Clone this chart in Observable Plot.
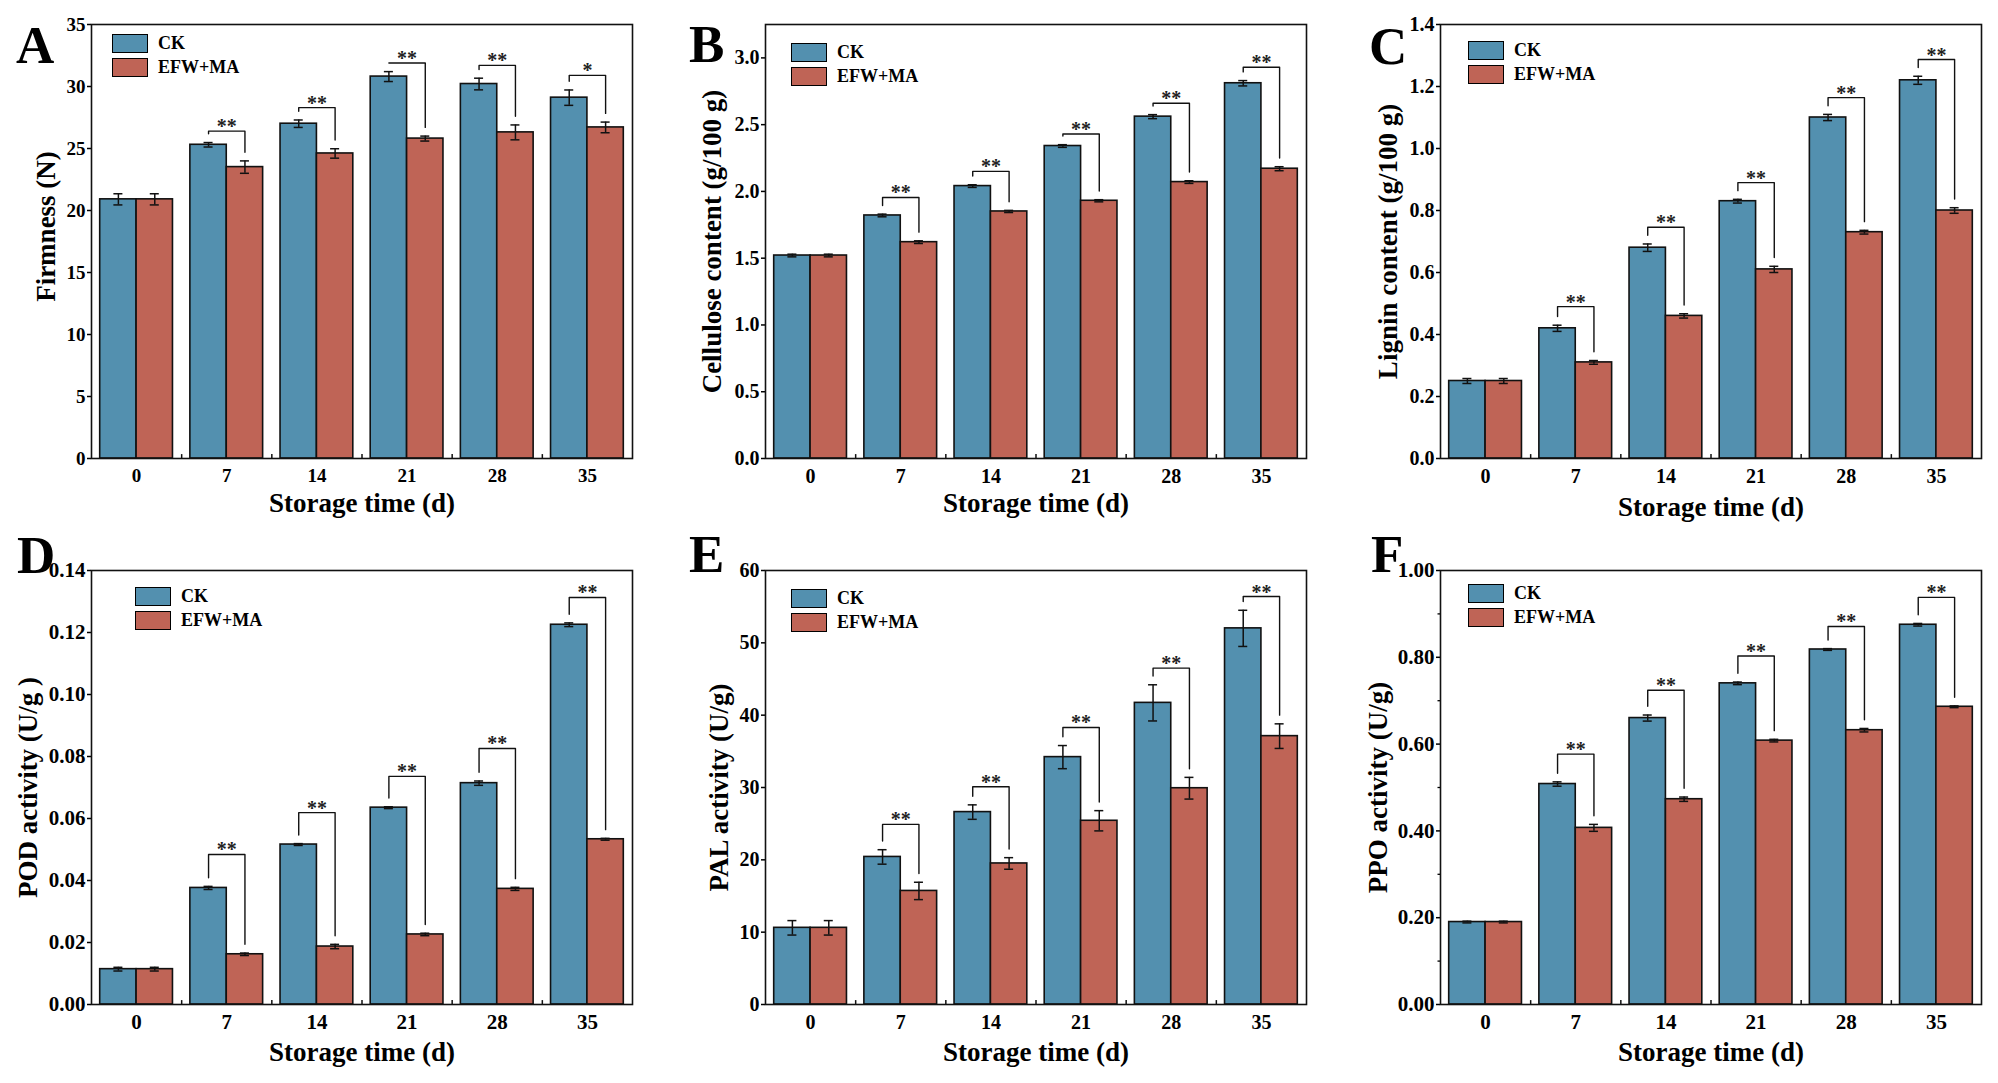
<!DOCTYPE html>
<html>
<head>
<meta charset="utf-8">
<script src="https://cdn.jsdelivr.net/npm/d3@7"></script>
<script src="https://cdn.jsdelivr.net/npm/@observablehq/plot@0.6"></script>
<style>
  html, body { margin: 0; padding: 0; background: #fff; }
  #root { position: relative; width: 1998px; height: 1083px; overflow: hidden; background: #fff;
          font-family: "Liberation Serif", "Times New Roman", serif; font-weight: bold; color: #000; }
  .panel { position: absolute; }
  .letter { position: absolute; font-size: 53px; line-height: 53px; font-weight: bold; }
  .sw { position: absolute; width: 36px; height: 19px; border: 1.6px solid #000; box-sizing: border-box; }
  .lt { position: absolute; font-size: 18px; line-height: 19px; font-weight: bold; white-space: nowrap; }
</style>
</head>
<body>
<div id="root"></div>
<script>
// ---------- data ----------
const days = [0, 7, 14, 21, 28, 35];
const groups = ["CK", "EFW+MA"];
const colors = ["#5390AF", "#BF6456"];
const xTitle = "Storage time (d)";

// A: Firmness
const firmCK     = [20.9, 25.3, 27.0, 30.8, 30.2, 29.1];
const firmCKErr  = [0.45, 0.18, 0.30, 0.40, 0.47, 0.62];
const firmEFW    = [20.9, 23.5, 24.6, 25.8, 26.3, 26.7];
const firmEFWErr = [0.45, 0.50, 0.38, 0.20, 0.60, 0.43];
const firmSig    = ["", "**", "**", "**", "**", "*"];
const firmSigTop = [null, 26.4, 28.3, 31.9, 31.7, 30.9];

// B: Cellulose
const celCK     = [1.52, 1.82, 2.04, 2.34, 2.56, 2.81];
const celCKErr  = [0.010, 0.010, 0.010, 0.010, 0.015, 0.020];
const celEFW    = [1.52, 1.62, 1.85, 1.93, 2.07, 2.17];
const celEFWErr = [0.010, 0.010, 0.008, 0.008, 0.010, 0.015];
const celSig    = ["", "**", "**", "**", "**", "**"];
const celSigTop = [null, 1.955, 2.15, 2.43, 2.66, 2.93];

// C: Lignin
const ligCK     = [0.25, 0.42, 0.68, 0.83, 1.10, 1.22];
const ligCKErr  = [0.008, 0.010, 0.012, 0.006, 0.010, 0.013];
const ligEFW    = [0.25, 0.31, 0.46, 0.61, 0.73, 0.80];
const ligEFWErr = [0.008, 0.006, 0.007, 0.010, 0.006, 0.009];
const ligSig    = ["", "**", "**", "**", "**", "**"];
const ligSigTop = [null, 0.49, 0.746, 0.89, 1.164, 1.287];

// D: POD
const podCK     = [0.0114, 0.0376, 0.0516, 0.0635, 0.0714, 0.1225];
const podCKErr  = [0.0006, 0.0005, 0.0003, 0.0003, 0.0007, 0.0006];
const podEFW    = [0.0114, 0.0162, 0.0187, 0.0226, 0.0373, 0.0533];
const podEFWErr = [0.0006, 0.0004, 0.0007, 0.0004, 0.0005, 0.0003];
const podSig    = ["", "**", "**", "**", "**", "**"];
const podSigTop = [null, 0.0484, 0.0619, 0.0736, 0.0826, 0.1313];

// E: PAL
const palCK     = [10.6, 20.4, 26.6, 34.2, 41.7, 52.0];
const palCKErr  = [1.0, 1.0, 1.0, 1.6, 2.5, 2.5];
const palEFW    = [10.6, 15.7, 19.5, 25.4, 29.9, 37.1];
const palEFWErr = [1.0, 1.2, 0.8, 1.4, 1.5, 1.7];
const palSig    = ["", "**", "**", "**", "**", "**"];
const palSigTop = [null, 24.9, 30.1, 38.3, 46.5, 56.4];

// F: PPO
const ppoCK     = [0.190, 0.508, 0.660, 0.740, 0.818, 0.875];
const ppoCKErr  = [0.002, 0.005, 0.007, 0.003, 0.002, 0.003];
const ppoEFW    = [0.190, 0.407, 0.473, 0.608, 0.632, 0.686];
const ppoEFWErr = [0.002, 0.008, 0.005, 0.003, 0.004, 0.002];
const ppoSig    = ["", "**", "**", "**", "**", "**"];
const ppoSigTop = [null, 0.577, 0.724, 0.803, 0.871, 0.938];

// y-axis ticks / labels
const firmTicks = [0, 5, 10, 15, 20, 25, 30, 35];
const celTicks  = [0, 0.5, 1.0, 1.5, 2.0, 2.5, 3.0];
const ligTicks  = [0, 0.2, 0.4, 0.6, 0.8, 1.0, 1.2, 1.4];
const podTicks  = [0, 0.02, 0.04, 0.06, 0.08, 0.10, 0.12, 0.14];
const palTicks  = [0, 10, 20, 30, 40, 50, 60];
const ppoTicks  = [0, 0.2, 0.4, 0.6, 0.8, 1.0];

// ---------- layout ----------
const FONT = '"Liberation Serif", "Times New Roman", serif';
const ML = 90, MT = 20, MR = 10, MB = 72, FW = 541, FH = 434;

const panels = [
  {letter: "A", ylabel: "Firmness (N)", ymax: 35, ticks: firmTicks, fmt: "d",
   ck: firmCK, ckErr: firmCKErr, efw: firmEFW, efwErr: firmEFWErr, sig: firmSig, sigTop: firmSigTop,
   fx: 91, fy: 24, ldx: -45, ldy: -15, xtdy: 34, lgx: 21, lgy: 10, letX: 16, letBase: 63, tf: 19},
  {letter: "B", ylabel: "Cellulose content (g/100 g)", ymax: 3.25, ticks: celTicks, fmt: ".1f",
   ck: celCK, ckErr: celCKErr, efw: celEFW, efwErr: celEFWErr, sig: celSig, sigTop: celSigTop,
   fx: 765, fy: 24, ldx: -53, ldy: 0, xtdy: 34, lgx: 26, lgy: 19, letX: 689, letBase: 62, tf: 20},
  {letter: "C", ylabel: "Lignin content (g/100 g)", ymax: 1.4, ticks: ligTicks, fmt: ".1f",
   ck: ligCK, ckErr: ligCKErr, efw: ligEFW, efwErr: ligEFWErr, sig: ligSig, sigTop: ligSigTop,
   fx: 1440, fy: 24, ldx: -52, ldy: 0, xtdy: 38, lgx: 28, lgy: 17, letX: 1369, letBase: 64, tf: 20},
  {letter: "D", ylabel: "POD activity (U/g )", ymax: 0.14, ticks: podTicks, fmt: ".2f",
   ck: podCK, ckErr: podCKErr, efw: podEFW, efwErr: podEFWErr, sig: podSig, sigTop: podSigTop,
   fx: 91, fy: 570, ldx: -63, ldy: 0, xtdy: 37, lgx: 44, lgy: 17, letX: 17, letBase: 573, tf: 21},
  {letter: "E", ylabel: "PAL activity (U/g)", ymax: 60, ticks: palTicks, fmt: "d",
   ck: palCK, ckErr: palCKErr, efw: palEFW, efwErr: palEFWErr, sig: palSig, sigTop: palSigTop,
   fx: 765, fy: 570, ldx: -46, ldy: 0, xtdy: 37, lgx: 26, lgy: 19, letX: 689, letBase: 572, tf: 20},
  {letter: "F", ylabel: "PPO activity (U/g)", ymax: 1.0, ticks: ppoTicks, fmt: ".2f", minor: true,
   ck: ppoCK, ckErr: ppoCKErr, efw: ppoEFW, efwErr: ppoEFWErr, sig: ppoSig, sigTop: ppoSigTop,
   fx: 1440, fy: 570, ldx: -62, ldy: 0, xtdy: 37, lgx: 28, lgy: 14, letX: 1371, letBase: 572, tf: 21}
];

const root = document.getElementById("root");
const half = 0.4035;   // half of a group's width in x-index units
const cap = 0.05;      // half width of the error-bar cap

function makePanel(p) {
  const gap = p.ymax * 0.02;
  const bars = days.flatMap((d, i) => [
    {i, g: groups[0], x1: i - half, x2: i, cx: i - half / 2, v: p.ck[i], e: p.ckErr[i]},
    {i, g: groups[1], x1: i, x2: i + half, cx: i + half / 2, v: p.efw[i], e: p.efwErr[i]}
  ]);
  const sigRows = days.map((d, i) => ({i, s: p.sig[i], top: p.sigTop[i]})).filter(r => r.s);
  const brackets = sigRows.flatMap(r => [
    {i: r.i, x: r.i - half / 2, y: p.ck[r.i] + p.ckErr[r.i] + gap},
    {i: r.i, x: r.i - half / 2, y: r.top},
    {i: r.i, x: r.i + half / 2, y: r.top},
    {i: r.i, x: r.i + half / 2, y: p.efw[r.i] + p.efwErr[r.i] + gap}
  ]);
  const marks = [
    Plot.rect(bars, {x1: "x1", x2: "x2", y1: 0, y2: "v", fill: "g", stroke: "#111", strokeWidth: 1.6}),
    Plot.ruleX(bars, {x: "cx", y1: d => d.v - d.e, y2: d => d.v + d.e, stroke: "#111", strokeWidth: 1.5}),
    Plot.ruleY(bars, {y: d => d.v + d.e, x1: d => d.cx - cap, x2: d => d.cx + cap, stroke: "#111", strokeWidth: 1.5}),
    Plot.ruleY(bars, {y: d => d.v - d.e, x1: d => d.cx - cap, x2: d => d.cx + cap, stroke: "#111", strokeWidth: 1.5}),
    Plot.line(brackets, {x: "x", y: "y", z: "i", stroke: "#111", strokeWidth: 1.4}),
    Plot.text(sigRows, {x: "i", y: "top", text: "s", lineAnchor: "bottom", dy: 2, fontSize: 20, fontWeight: "bold", fill: "#222"}),
    Plot.ruleX([0.5, 1.5, 2.5, 3.5, 4.5], {x: d => d, y1: 0, y2: p.ymax * 0.009, stroke: "#111", strokeWidth: 1.5}),
    Plot.axisY({ticks: p.ticks, tickFormat: p.fmt, tickSize: 4, tickPadding: 2, fontSize: p.tf, label: null, strokeWidth: 1.5}),
    Plot.axisX({ticks: [0, 1, 2, 3, 4, 5], tickFormat: i => days[i], tickSize: 0, tickPadding: 10, fontSize: p.tf, label: null}),
    Plot.text([p.ylabel], {text: d => d, frameAnchor: "left", textAnchor: "middle", lineAnchor: "middle", rotate: -90, dx: p.ldx, dy: p.ldy, fontSize: 27, fontWeight: "bold"}),
    Plot.text([xTitle], {text: d => d, frameAnchor: "bottom", textAnchor: "middle", lineAnchor: "top", dy: p.xtdy, fontSize: 27, fontWeight: "bold"}),
    Plot.frame({stroke: "#111", strokeWidth: 1.6})
  ];
  if (p.minor) {
    const minorTicks = p.ticks.slice(0, -1).map((t, k) => (t + p.ticks[k + 1]) / 2);
    marks.push(Plot.axisY({ticks: minorTicks, tickFormat: () => "", tickSize: 2.5, strokeWidth: 1.3, label: null}));
  }
  const svg = Plot.plot({
    width: ML + FW + MR, height: MT + FH + MB,
    marginLeft: ML, marginTop: MT, marginRight: MR, marginBottom: MB,
    x: {domain: [-0.5, 5.5]},
    y: {domain: [0, p.ymax]},
    color: {domain: groups, range: colors},
    style: {fontFamily: FONT, fontWeight: "bold", fontSize: "19px", color: "#000", background: "transparent", overflow: "visible"},
    marks
  });
  const wrap = document.createElement("div");
  wrap.className = "panel";
  wrap.style.left = (p.fx - ML) + "px";
  wrap.style.top = (p.fy - MT) + "px";
  wrap.style.width = (ML + FW + MR) + "px";
  wrap.appendChild(svg);
  root.appendChild(wrap);

  // panel letter
  const L = document.createElement("div");
  L.className = "letter";
  L.textContent = p.letter;
  L.style.left = p.letX + "px";
  L.style.top = (p.letBase - 44) + "px";
  root.appendChild(L);

  // legend
  groups.forEach((g, k) => {
    const sx = p.fx + p.lgx, sy = p.fy + p.lgy + k * 24;
    const sw = document.createElement("div");
    sw.className = "sw";
    sw.style.left = sx + "px"; sw.style.top = sy + "px"; sw.style.background = colors[k];
    root.appendChild(sw);
    const t = document.createElement("div");
    t.className = "lt";
    t.textContent = g;
    t.style.left = (sx + 46) + "px"; t.style.top = sy + "px";
    root.appendChild(t);
  });
}

panels.forEach(makePanel);
</script>
</body>
</html>
